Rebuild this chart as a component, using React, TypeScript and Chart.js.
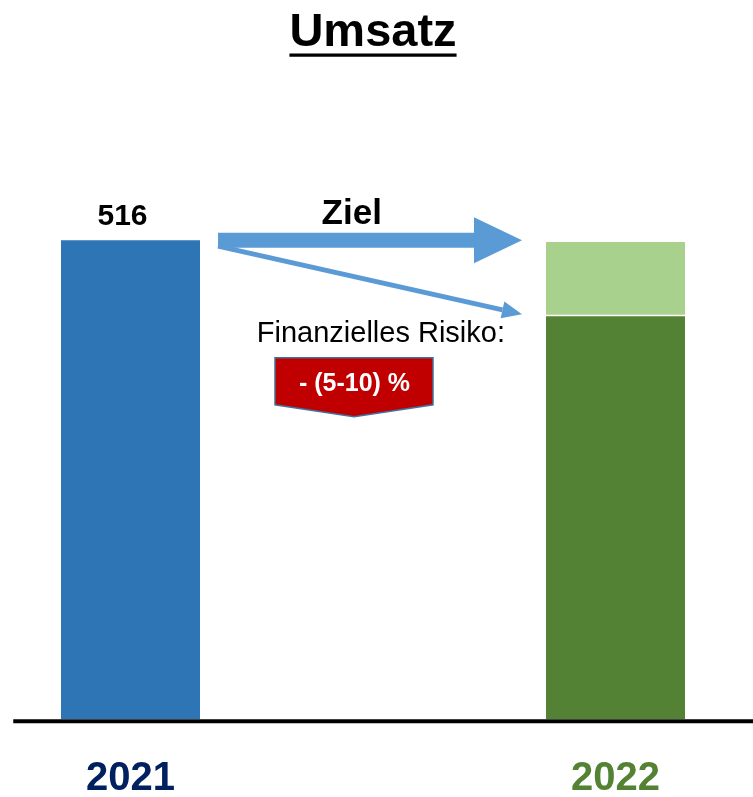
import React, { useEffect, useRef } from "react";
import { Chart, registerables } from "chart.js";

Chart.register(...registerables);

// ---- data ----
const categories = ["2021", "", "2022"];
const umsatz2021 = [516, null, null];
const umsatz2022Basis = [null, null, 434];
const umsatz2022Risiko = [null, null, 80];
const tickColors = ["#002060", "#002060", "#548235"];
const titleText = "Umsatz";
const valueLabel2021 = "516";
const zielText = "Ziel";
const risikoText = "Finanzielles Risiko:";
const risikoRange = "- (5-10) %";

const FONT = '"Liberation Sans", Arial, Helvetica, sans-serif';
const ARROW_BLUE = "#5B9BD5";

const annotationPlugin = {
  id: "umsatzAnnotations",
  afterDraw(chart: any) {
    const ctx = chart.ctx as CanvasRenderingContext2D;
    const yScale = chart.scales.y;
    const bar2021 = chart.getDatasetMeta(0).data[0];
    const barDark = chart.getDatasetMeta(1).data[2];
    const barLight = chart.getDatasetMeta(2).data[2];
    const base = yScale.getPixelForValue(0);
    const area = chart.chartArea;

    ctx.save();

    // baseline
    ctx.strokeStyle = "#000000";
    ctx.lineWidth = 4;
    ctx.beginPath();
    ctx.moveTo(area.left + 4, base + 2.3);
    ctx.lineTo(chart.width, base + 2.3);
    ctx.stroke();

    // title underline
    const tb = chart.titleBlock;
    const tfs = 47;
    ctx.font = `bold ${tfs}px ${FONT}`;
    const tw = ctx.measureText(titleText).width;
    const tcx = (tb.left + tb.right) / 2;
    const tMid = tb.top + 5 + (tfs * 1.2) / 2;
    ctx.lineWidth = 3.3;
    ctx.beginPath();
    ctx.moveTo(tcx - tw / 2, tMid + 22);
    ctx.lineTo(tcx + tw / 2, tMid + 22);
    ctx.stroke();

    // value label 2021
    ctx.fillStyle = "#000000";
    ctx.font = `bold 30px ${FONT}`;
    ctx.textAlign = "center";
    ctx.textBaseline = "alphabetic";
    ctx.fillText(valueLabel2021, bar2021.x - 8, bar2021.y - 15);

    // thick arrow ("Ziel")
    const startX = bar2021.x + bar2021.width / 2 + 18;
    const tipX = barLight.x - barLight.width / 2 - 24;
    const ay = bar2021.y;
    const headLen = 48;
    ctx.fillStyle = ARROW_BLUE;
    ctx.beginPath();
    ctx.moveTo(startX, ay - 7.5);
    ctx.lineTo(tipX - headLen, ay - 7.5);
    ctx.lineTo(tipX - headLen, ay - 23);
    ctx.lineTo(tipX, ay);
    ctx.lineTo(tipX - headLen, ay + 23);
    ctx.lineTo(tipX - headLen, ay + 7.5);
    ctx.lineTo(startX, ay + 7.5);
    ctx.closePath();
    ctx.fill();

    // thin arrow (risk)
    const sx = startX;
    const sy = ay + 6;
    const ex = tipX;
    const ey = barDark.y - 2;
    const ang = Math.atan2(ey - sy, ex - sx);
    const hl = 20;
    const hw = 8.5;
    const bx = ex - hl * Math.cos(ang);
    const by = ey - hl * Math.sin(ang);
    ctx.strokeStyle = ARROW_BLUE;
    ctx.lineWidth = 5;
    ctx.beginPath();
    ctx.moveTo(sx, sy);
    ctx.lineTo(bx, by);
    ctx.stroke();
    ctx.beginPath();
    ctx.moveTo(ex, ey);
    ctx.lineTo(bx + hw * Math.sin(ang), by - hw * Math.cos(ang));
    ctx.lineTo(bx - hw * Math.sin(ang), by + hw * Math.cos(ang));
    ctx.closePath();
    ctx.fill();

    // "Ziel"
    ctx.fillStyle = "#000000";
    ctx.font = `bold 35px ${FONT}`;
    ctx.textAlign = "center";
    ctx.fillText(zielText, startX + 0.44 * (tipX - startX), ay - 16);

    // "Finanzielles Risiko:"
    ctx.font = `29px ${FONT}`;
    ctx.textAlign = "right";
    ctx.fillText(risikoText, tipX - 17, barDark.y + 25.5);

    // red callout
    const ccx = startX + 136;
    const cTop = barDark.y + 41.5;
    const cW = 158;
    const cH = 47;
    const cPt = 12;
    ctx.beginPath();
    ctx.moveTo(ccx - cW / 2, cTop);
    ctx.lineTo(ccx + cW / 2, cTop);
    ctx.lineTo(ccx + cW / 2, cTop + cH);
    ctx.lineTo(ccx, cTop + cH + cPt);
    ctx.lineTo(ccx - cW / 2, cTop + cH);
    ctx.closePath();
    ctx.fillStyle = "#C00000";
    ctx.fill();
    ctx.strokeStyle = "#41719C";
    ctx.lineWidth = 1.5;
    ctx.stroke();

    ctx.fillStyle = "#FFFFFF";
    ctx.font = `bold 25px ${FONT}`;
    ctx.textAlign = "center";
    ctx.fillText(risikoRange, ccx + 0.5, cTop + 33);

    ctx.restore();
  },
};

export default function App() {
  const canvasRef = useRef<HTMLCanvasElement | null>(null);

  useEffect(() => {
    if (!canvasRef.current) return;
    const chart = new Chart(canvasRef.current, {
      type: "bar",
      data: {
        labels: categories,
        datasets: [
          {
            label: "2021",
            data: umsatz2021 as any,
            backgroundColor: "#2E75B6",
            borderWidth: 0,
          },
          {
            label: "2022 Basis",
            data: umsatz2022Basis as any,
            backgroundColor: "#548235",
            borderWidth: 0,
          },
          {
            label: "2022 Risiko",
            data: umsatz2022Risiko as any,
            backgroundColor: "#A9D18E",
            borderColor: "#FFFFFF",
            borderSkipped: false,
            borderWidth: { top: 0, left: 0, right: 0, bottom: 1.5 },
          },
        ],
      },
      options: {
        responsive: false,
        animation: false,
        layout: { padding: { left: 9.25, right: 16.25, top: 0, bottom: 0 } },
        datasets: {
          bar: { barPercentage: 0.5732, categoryPercentage: 1, grouped: false },
        },
        plugins: {
          legend: { display: false },
          tooltip: { enabled: false },
          title: {
            display: true,
            text: titleText,
            color: "#000000",
            font: { family: FONT, size: 47, weight: "bold", lineHeight: 1.2 },
            padding: { top: 5, bottom: 8 },
          },
        },
        scales: {
          x: {
            stacked: true,
            grid: { display: false, drawTicks: false },
            border: { display: false },
            afterFit: (scale: any) => {
              scale.height = 78;
            },
            ticks: {
              autoSkip: false,
              maxRotation: 0,
              padding: 41.5,
              color: (c: any) => tickColors[c.index] ?? "#000",
              font: { family: FONT, size: 40, weight: "bold", lineHeight: 0.9 },
            },
          },
          y: {
            stacked: true,
            display: false,
            min: 0,
            max: 700,
          },
        },
      },
      plugins: [annotationPlugin],
    });
    return () => chart.destroy();
  }, []);

  return (
    <div style={{ position: "absolute", left: 0, top: 0, width: 753, height: 797, background: "#fff" }}>
      <canvas ref={canvasRef} width={753} height={797} style={{ display: "block" }} />
    </div>
  );
}
